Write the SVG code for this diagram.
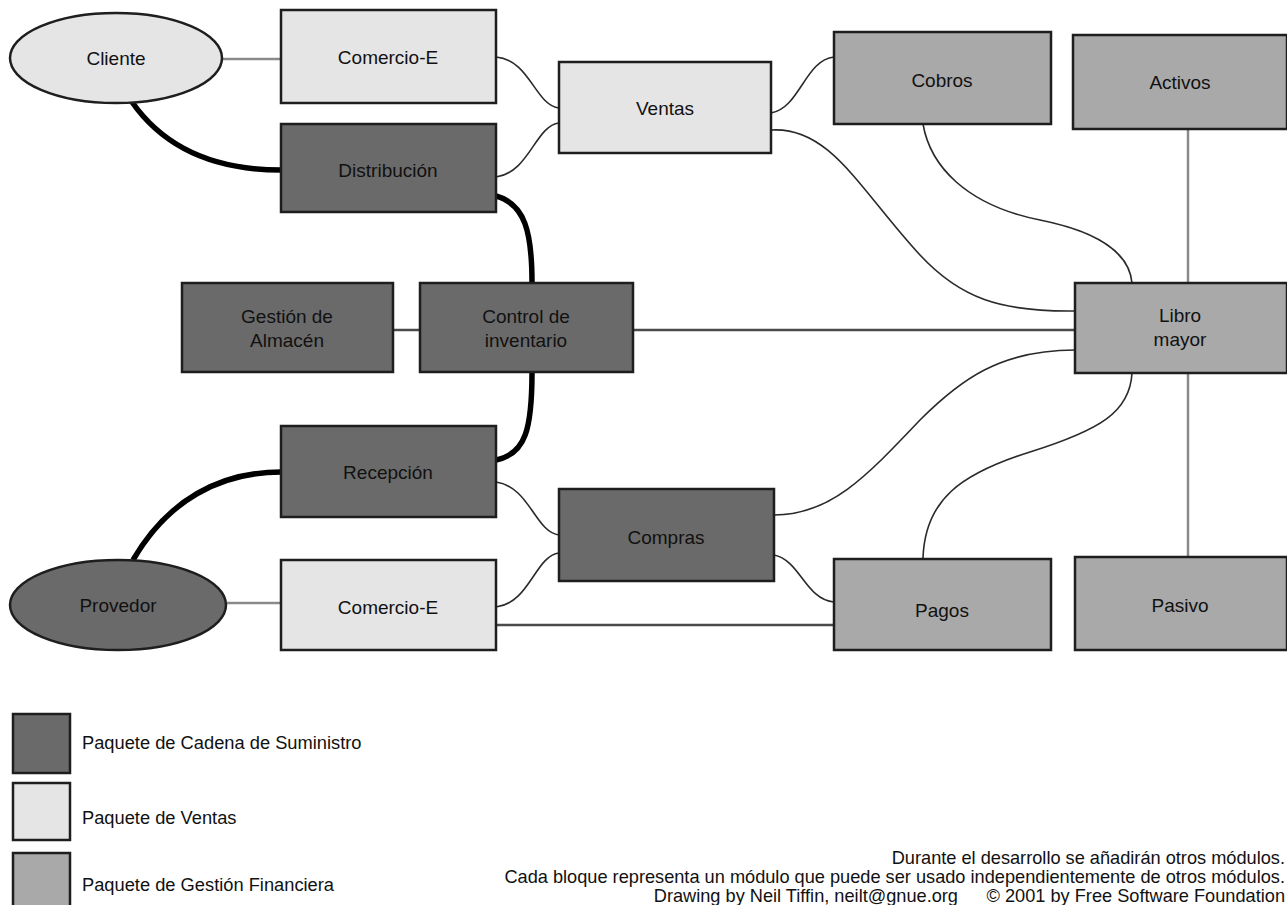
<svg xmlns="http://www.w3.org/2000/svg" width="1287" height="905" viewBox="0 0 1287 905">
<style>
.sc{fill:#6a6a6a;stroke:#1e1e1e;stroke-width:2.5}
.sv{fill:#e5e5e5;stroke:#1e1e1e;stroke-width:2.5}
.fi{fill:#a9a9a9;stroke:#1e1e1e;stroke-width:2.5}
.t{font-family:"Liberation Sans",Arial,sans-serif;font-size:19px;fill:#111;text-anchor:middle}
.lg{font-family:"Liberation Sans",Arial,sans-serif;font-size:18.3px;fill:#111}
.ft{font-family:"Liberation Sans",Arial,sans-serif;font-size:18.2px;fill:#111;text-anchor:end}
.thin{fill:none;stroke:#2a2a2a;stroke-width:1.6}
.gray{fill:none;stroke:#8a8a8a;stroke-width:2.5}
.mid{fill:none;stroke:#4a4a4a;stroke-width:2.5}
.thick{fill:none;stroke:#000;stroke-width:5.5}
</style>
<rect width="1287" height="905" fill="#fff"/>
<g id="connectors">
<line class="gray" x1="222" y1="59" x2="281" y2="59"/>
<line class="gray" x1="227" y1="603" x2="281" y2="603"/>
<line class="gray" x1="1188" y1="129" x2="1188" y2="283"/>
<line class="gray" x1="1188" y1="373" x2="1188" y2="557"/>
<line class="mid" x1="393" y1="330" x2="420" y2="330"/>
<line class="mid" x1="633" y1="330" x2="1075" y2="330"/>
<line class="mid" x1="496" y1="625" x2="834" y2="625"/>
<path class="thick" d="M132,102 C160,142 205,170 281,170"/>
<path class="thick" d="M496,196 C525,204 532,232 532,283"/>
<path class="thick" d="M532,372 C532,428 526,454 496,460"/>
<path class="thick" d="M133,560 C168,500 220,472 281,472"/>
<path class="thin" d="M496,57 C530,60 535,105 559,108"/>
<path class="thin" d="M496,177 C530,172 535,126 559,123"/>
<path class="thin" d="M771,113 C800,108 805,60 834,57"/>
<path class="thin" d="M771,130 C830,126 860,190 920,255 C960,298 1000,312 1075,311"/>
<path class="thin" d="M923,124 C930,165 965,205 1040,220 C1110,234 1130,260 1132,283"/>
<path class="thin" d="M1075,350 C1000,350 960,380 920,420 C865,478 830,515 774,515"/>
<path class="thin" d="M1132,373 C1130,412 1100,430 1030,452 C960,474 925,500 923,558"/>
<path class="thin" d="M496,482 C530,487 535,532 559,535"/>
<path class="thin" d="M496,607 C530,603 535,556 559,553"/>
<path class="thin" d="M774,555 C800,560 806,600 834,602"/>
</g>
<g id="cliente"><ellipse class="sv" cx="116" cy="58" rx="106" ry="45"/><text class="t" x="116" y="65">Cliente</text></g>
<g id="comercio-e-1"><rect class="sv" x="281" y="10" width="215" height="93"/><text class="t" x="388" y="64">Comercio-E</text></g>
<g id="distribucion"><rect class="sc" x="281" y="124" width="215" height="88"/><text class="t" x="388" y="177">Distribución</text></g>
<g id="ventas"><rect class="sv" x="559" y="62" width="212" height="91"/><text class="t" x="665" y="115">Ventas</text></g>
<g id="cobros"><rect class="fi" x="834" y="32" width="217" height="92"/><text class="t" x="942" y="87">Cobros</text></g>
<g id="activos"><rect class="fi" x="1073" y="35" width="214" height="94"/><text class="t" x="1180" y="89">Activos</text></g>
<g id="gestion-almacen"><rect class="sc" x="182" y="283" width="211" height="89"/><text class="t" x="287" y="323">Gestión de</text><text class="t" x="287" y="347">Almacén</text></g>
<g id="control-inventario"><rect class="sc" x="420" y="283" width="213" height="89"/><text class="t" x="526" y="323">Control de</text><text class="t" x="526" y="347">inventario</text></g>
<g id="libro-mayor"><rect class="fi" x="1075" y="283" width="212" height="90"/><text class="t" x="1180" y="322">Libro</text><text class="t" x="1180" y="346">mayor</text></g>
<g id="recepcion"><rect class="sc" x="281" y="426" width="215" height="91"/><text class="t" x="388" y="479">Recepción</text></g>
<g id="compras"><rect class="sc" x="559" y="489" width="215" height="92"/><text class="t" x="666" y="544">Compras</text></g>
<g id="provedor"><ellipse class="sc" cx="118" cy="605" rx="108" ry="45"/><text class="t" x="118" y="612">Provedor</text></g>
<g id="comercio-e-2"><rect class="sv" x="281" y="560" width="215" height="90"/><text class="t" x="388" y="614">Comercio-E</text></g>
<g id="pagos"><rect class="fi" x="834" y="559" width="217" height="91"/><text class="t" x="942" y="617">Pagos</text></g>
<g id="pasivo"><rect class="fi" x="1075" y="557" width="212" height="93"/><text class="t" x="1180" y="612">Pasivo</text></g>
<g id="legend">
<rect class="sc" x="13" y="714" width="57" height="59"/><text class="lg" x="82" y="749">Paquete de Cadena de Suministro</text>
<rect class="sv" x="13" y="783" width="57" height="57"/><text class="lg" x="82" y="824">Paquete de Ventas</text>
<rect class="fi" x="13" y="853" width="57" height="60"/><text class="lg" x="82" y="891">Paquete de Gestión Financiera</text>
</g>
<g id="footer">
<text class="ft" x="1285" y="864">Durante el desarrollo se añadirán otros módulos.</text>
<text class="ft" x="1285" y="883">Cada bloque representa un módulo que puede ser usado independientemente de otros módulos.</text>
<text class="ft" x="958" y="902">Drawing by Neil Tiffin, neilt@gnue.org</text>
<text class="ft" x="1285" y="902">© 2001 by Free Software Foundation</text>
</g>
</svg>
